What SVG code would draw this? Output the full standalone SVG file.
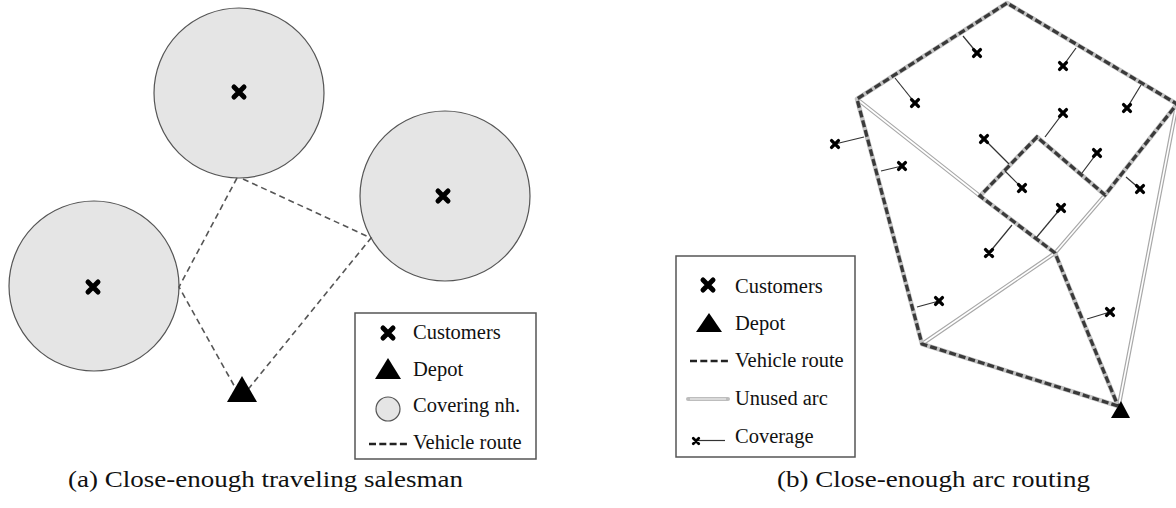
<svg xmlns="http://www.w3.org/2000/svg" width="1176" height="508" viewBox="0 0 1176 508">
<style>
.bg{fill:#fff}
.nh{fill:#e5e5e5;stroke:#555;stroke-width:1.2}
.route-a{fill:none;stroke:#555;stroke-width:1.6;stroke-dasharray:6 4}
.box{fill:#fff;stroke:#555;stroke-width:1.5}
.lbl{font-family:"Liberation Serif","Times New Roman",serif;font-size:20.5px;fill:#111}
.cap{font-family:"Liberation Serif","Times New Roman",serif;font-size:23px;fill:#111}
.xm{fill:none;stroke:#000;stroke-width:5;stroke-linecap:round}
.dep{fill:#000}
.rbase{fill:none;stroke:#c4c4c4;stroke-width:4.6;stroke-linejoin:round}
.rdash{fill:none;stroke:#3a3a3a;stroke-width:3.3;stroke-dasharray:7 3}
.ubase{fill:none;stroke:#a8a8a8;stroke-width:4}
.uin{fill:none;stroke:#fff;stroke-width:1.6}
.cov{stroke:#333;stroke-width:1.2}
.leg-dash{stroke:#222;stroke-width:2.4;stroke-dasharray:7 3.3}
</style>
<defs>
<path id="xs" class="xm" d="M-5,-5L5,5M5,-5L-5,5"/>
</defs>
<rect class="bg" x="0" y="0" width="1176" height="508"/>

<!-- (a) Close-enough TSP -->
<g id="nh-top"><circle class="nh" cx="239" cy="93" r="85"/><use href="#xs" x="239" y="92"/></g>
<g id="nh-right"><circle class="nh" cx="445" cy="196" r="85"/><use href="#xs" x="443" y="196"/></g>
<g id="nh-left"><circle class="nh" cx="94" cy="286" r="85"/><use href="#xs" x="93" y="287"/></g>
<g id="routes-a">
<path class="route-a" d="M237,178L179,287L241,398"/>
<path class="route-a" d="M243,179L371,238L241,398"/>
</g>
<g id="depot-a"><polygon class="dep" points="242,376 227,402 257,402"/></g>
<g id="legend-a">
<rect class="box" x="355" y="313" width="181" height="146"/>
<use href="#xs" x="388" y="333"/>
<text class="lbl" x="413" y="339">Customers</text>
<polygon class="dep" points="388,358 375,379 401,379"/>
<text class="lbl" x="413" y="375.5">Depot</text>
<circle class="nh" cx="388" cy="409" r="12"/>
<text class="lbl" x="413" y="412">Covering nh.</text>
<line class="leg-dash" x1="369" y1="444" x2="407" y2="444"/>
<text class="lbl" x="413" y="449">Vehicle route</text>
</g>
<text class="cap" x="68" y="487" textLength="395" lengthAdjust="spacingAndGlyphs">(a) Close-enough traveling salesman</text>

<!-- (b) Close-enough arc routing -->
<g id="connectors-b">
<g id="unused">
<path class="ubase" d="M857,99L980,196M1055,253L922,344M1177,104L1119,405M1105,195L1055,253"/>
<path class="uin" d="M857,99L980,196M1055,253L922,344M1177,104L1119,405M1105,195L1055,253"/>
</g>
<g id="route-b">
<path class="rbase" d="M1118,406L922,344L857,99L1007,3L1177,104L1105,195L1037,137L980,196L1055,253L1118,406"/>
<path class="rdash" d="M1118,406L922,344L857,99L1007,3L1177,104L1105,195L1037,137L980,196L1055,253L1118,406"/>
</g>
<g id="coverage">
<line class="cov" x1="977" y1="53" x2="963" y2="36"/>
<line class="cov" x1="1063" y1="66" x2="1076" y2="48"/>
<line class="cov" x1="915" y1="103" x2="895" y2="78"/>
<line class="cov" x1="1127" y1="108" x2="1141" y2="85"/>
<line class="cov" x1="1063" y1="113" x2="1045" y2="137"/>
<line class="cov" x1="984" y1="139" x2="1009" y2="164"/>
<line class="cov" x1="1097" y1="153" x2="1082" y2="173"/>
<line class="cov" x1="835" y1="144" x2="864" y2="137"/>
<line class="cov" x1="902" y1="166" x2="881" y2="171"/>
<line class="cov" x1="1022" y1="188" x2="1005" y2="171"/>
<line class="cov" x1="1140" y1="189" x2="1126" y2="177"/>
<line class="cov" x1="1061" y1="208" x2="1036" y2="238"/>
<line class="cov" x1="989" y1="253" x2="1012" y2="225"/>
<line class="cov" x1="939" y1="301" x2="917" y2="307"/>
<line class="cov" x1="1110" y1="312" x2="1087" y2="319"/>
</g>
</g>
<g id="customers-b">
<use href="#xs" transform="translate(977,53) scale(0.68)"/>
<use href="#xs" transform="translate(1063,66) scale(0.68)"/>
<use href="#xs" transform="translate(915,103) scale(0.68)"/>
<use href="#xs" transform="translate(1127,108) scale(0.68)"/>
<use href="#xs" transform="translate(1063,113) scale(0.68)"/>
<use href="#xs" transform="translate(984,139) scale(0.68)"/>
<use href="#xs" transform="translate(1097,153) scale(0.68)"/>
<use href="#xs" transform="translate(835,144) scale(0.68)"/>
<use href="#xs" transform="translate(902,166) scale(0.68)"/>
<use href="#xs" transform="translate(1022,188) scale(0.68)"/>
<use href="#xs" transform="translate(1140,189) scale(0.68)"/>
<use href="#xs" transform="translate(1061,208) scale(0.68)"/>
<use href="#xs" transform="translate(989,253) scale(0.68)"/>
<use href="#xs" transform="translate(939,301) scale(0.68)"/>
<use href="#xs" transform="translate(1110,312) scale(0.68)"/>
</g>
<g id="depot-b"><polygon class="dep" points="1121,401 1111,418 1130,418"/></g>
<g id="legend-b">
<rect class="box" x="676" y="256" width="179" height="201"/>
<use href="#xs" x="708" y="285"/>
<text class="lbl" x="735" y="293">Customers</text>
<polygon class="dep" points="709,313 696,332 722,332"/>
<text class="lbl" x="735" y="330">Depot</text>
<line class="leg-dash" x1="690" y1="361" x2="728" y2="361"/>
<text class="lbl" x="735" y="367">Vehicle route</text>
<line x1="688" y1="399" x2="728" y2="399" stroke="#bdbdbd" stroke-width="4" stroke-linecap="round"/>
<line x1="690" y1="399" x2="726" y2="399" stroke="#e4e4e4" stroke-width="1.4"/>
<text class="lbl" x="735" y="405">Unused arc</text>
<line class="cov" x1="697" y1="440.5" x2="725" y2="440.5"/>
<use href="#xs" transform="translate(696,441) scale(0.55)"/>
<text class="lbl" x="735" y="443">Coverage</text>
</g>
<text class="cap" x="777" y="487" textLength="313" lengthAdjust="spacingAndGlyphs">(b) Close-enough arc routing</text>
</svg>
